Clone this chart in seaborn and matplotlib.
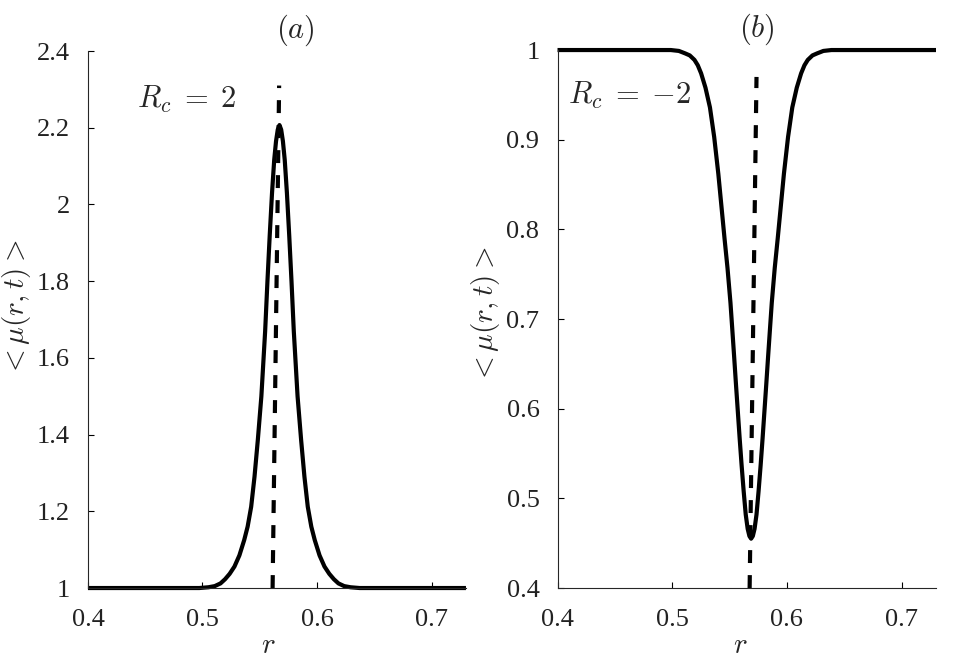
import matplotlib
matplotlib.use("Agg")
import matplotlib.pyplot as plt
from matplotlib.ticker import FuncFormatter
import pandas as pd
import seaborn as sns

# panel (a), R_c = 2 : bump of <mu> around r ~ 0.567
r_a = [0.400, 0.4972, 0.5052, 0.5107, 0.5157, 0.5197, 0.5237, 0.5279, 0.5322,
       0.5364, 0.5394, 0.5425, 0.5454, 0.5483, 0.5514, 0.5547, 0.5567, 0.5587,
       0.5607, 0.5626, 0.5642, 0.5657, 0.5672, 0.5687, 0.5702, 0.5718, 0.5737,
       0.5757, 0.5777, 0.5797, 0.5830, 0.5861, 0.5890, 0.5919, 0.5950, 0.5980,
       0.6022, 0.6065, 0.6107, 0.6147, 0.6187, 0.6237, 0.6292, 0.6372, 0.730]
mu_a = [1.000, 1.000, 1.002, 1.005, 1.012, 1.023, 1.037, 1.056, 1.085,
        1.125, 1.160, 1.212, 1.290, 1.386, 1.500, 1.670, 1.800, 1.920,
        2.030, 2.116, 2.165, 2.195, 2.207, 2.195, 2.165, 2.116, 2.030,
        1.920, 1.800, 1.670, 1.500, 1.386, 1.290, 1.212, 1.160, 1.125,
        1.085, 1.056, 1.037, 1.023, 1.012, 1.005, 1.002, 1.000, 1.000]

# panel (b), R_c = -2 : dip of <mu> around r ~ 0.569
r_b = [0.400, 0.4988, 0.5058, 0.5112, 0.5153, 0.5194, 0.5223, 0.5252, 0.5290,
       0.5329, 0.5366, 0.5402, 0.5429, 0.5456, 0.5482, 0.5508, 0.5523, 0.5540,
       0.5556, 0.5572, 0.5588, 0.5605, 0.5623, 0.5641, 0.5658, 0.5673, 0.5688,
       0.5703, 0.5718, 0.5735, 0.5753, 0.5771, 0.5788, 0.5804, 0.5820, 0.5836,
       0.5853, 0.5868, 0.5894, 0.5920, 0.5947, 0.5974, 0.6010, 0.6047, 0.6086,
       0.6124, 0.6153, 0.6182, 0.6223, 0.6264, 0.6318, 0.6388, 0.730]
mu_b = [1.000, 1.000, 0.999, 0.9963, 0.994, 0.989, 0.983, 0.974, 0.958,
        0.936, 0.903, 0.862, 0.826, 0.790, 0.757, 0.718, 0.690, 0.658,
        0.627, 0.597, 0.567, 0.537, 0.508, 0.482, 0.466, 0.458, 0.455,
        0.458, 0.466, 0.482, 0.508, 0.537, 0.567, 0.597, 0.627, 0.658,
        0.690, 0.718, 0.757, 0.790, 0.826, 0.862, 0.903, 0.936, 0.958,
        0.974, 0.983, 0.989, 0.994, 0.9963, 0.999, 1.000, 1.000]

# dashed guide lines (slightly tilted in the original)
guide_a_r = [0.5612, 0.5669]
guide_a_mu = [1.0, 2.31]
guide_b_r = [0.5675, 0.5735]
guide_b_mu = [0.4, 0.97]

x_ticks = [0.4, 0.5, 0.6, 0.7]
y_ticks_a = [1.0, 1.2, 1.4, 1.6, 1.8, 2.0, 2.2, 2.4]
y_ticks_b = [0.4, 0.5, 0.6, 0.7, 0.8, 0.9, 1.0]

sns.set_style("ticks")
plt.rcParams['font.family'] = ['Liberation Serif', 'DejaVu Serif']
plt.rcParams['mathtext.fontset'] = 'cm'
plt.rcParams['axes.linewidth'] = 0.8

fig = plt.figure(figsize=(9.55, 6.61), dpi=100)
ax_a = fig.add_axes([0.0921, 0.1104, 0.3958, 0.8124])
ax_b = fig.add_axes([0.5838, 0.1104, 0.3963, 0.8139])

df_a = pd.DataFrame({'r': r_a, 'mu': mu_a})
df_b = pd.DataFrame({'r': r_b, 'mu': mu_b})

panels = [
    (ax_a, df_a, guide_a_r, guide_a_mu, (1.0, 2.4), y_ticks_a,
     r'$R_c\;=\;2$', (0.13, 0.909), r'$(a)$', 0.55, (-0.145, 0.52), 0.476),
    (ax_b, df_b, guide_b_r, guide_b_mu, (0.4, 1.0), y_ticks_b,
     r'$R_c\;=\;{-2}$', (0.028, 0.916), r'$(b)$', 0.527, (-0.147, 0.507), 0.482),
]

fmt = FuncFormatter(lambda v, p: f"{v:g}")

for ax, df, gr, gm, ylim, yt, rc_txt, rc_pos, title, tx, ylab_pos, xlab_x in panels:
    sns.lineplot(data=df, x='r', y='mu', ax=ax, color='black', lw=3,
                 clip_on=False, solid_capstyle='butt')
    sns.lineplot(x=gr, y=gm, ax=ax, color='black', lw=3,
                 linestyle=(0, (3.1, 2.9)), dash_capstyle='butt')
    ax.set_xlim(0.4, 0.73)
    ax.set_ylim(*ylim)
    ax.set_xticks(x_ticks)
    ax.set_yticks(yt)
    ax.xaxis.set_major_formatter(fmt)
    ax.yaxis.set_major_formatter(fmt)
    ax.tick_params(direction='in', length=4, width=0.8, labelsize=19,
                   colors='black', labelcolor='#222222')
    ax.tick_params(axis='x', pad=15)
    ax.tick_params(axis='y', pad=13)
    sns.despine(ax=ax)
    ax.set_xlabel(r'$r$', fontsize=21)
    ax.set_ylabel(r'$<\mu(r,t)>$', fontsize=21)
    ax.xaxis.set_label_coords(xlab_x, -0.084)
    ax.yaxis.set_label_coords(*ylab_pos)
    ax.text(rc_pos[0], rc_pos[1], rc_txt, transform=ax.transAxes,
            fontsize=22, ha='left', va='center')
    ax.text(tx, 1.039, title, transform=ax.transAxes,
            fontsize=22, ha='center', va='center')

fig.savefig('out.png', dpi=100)
